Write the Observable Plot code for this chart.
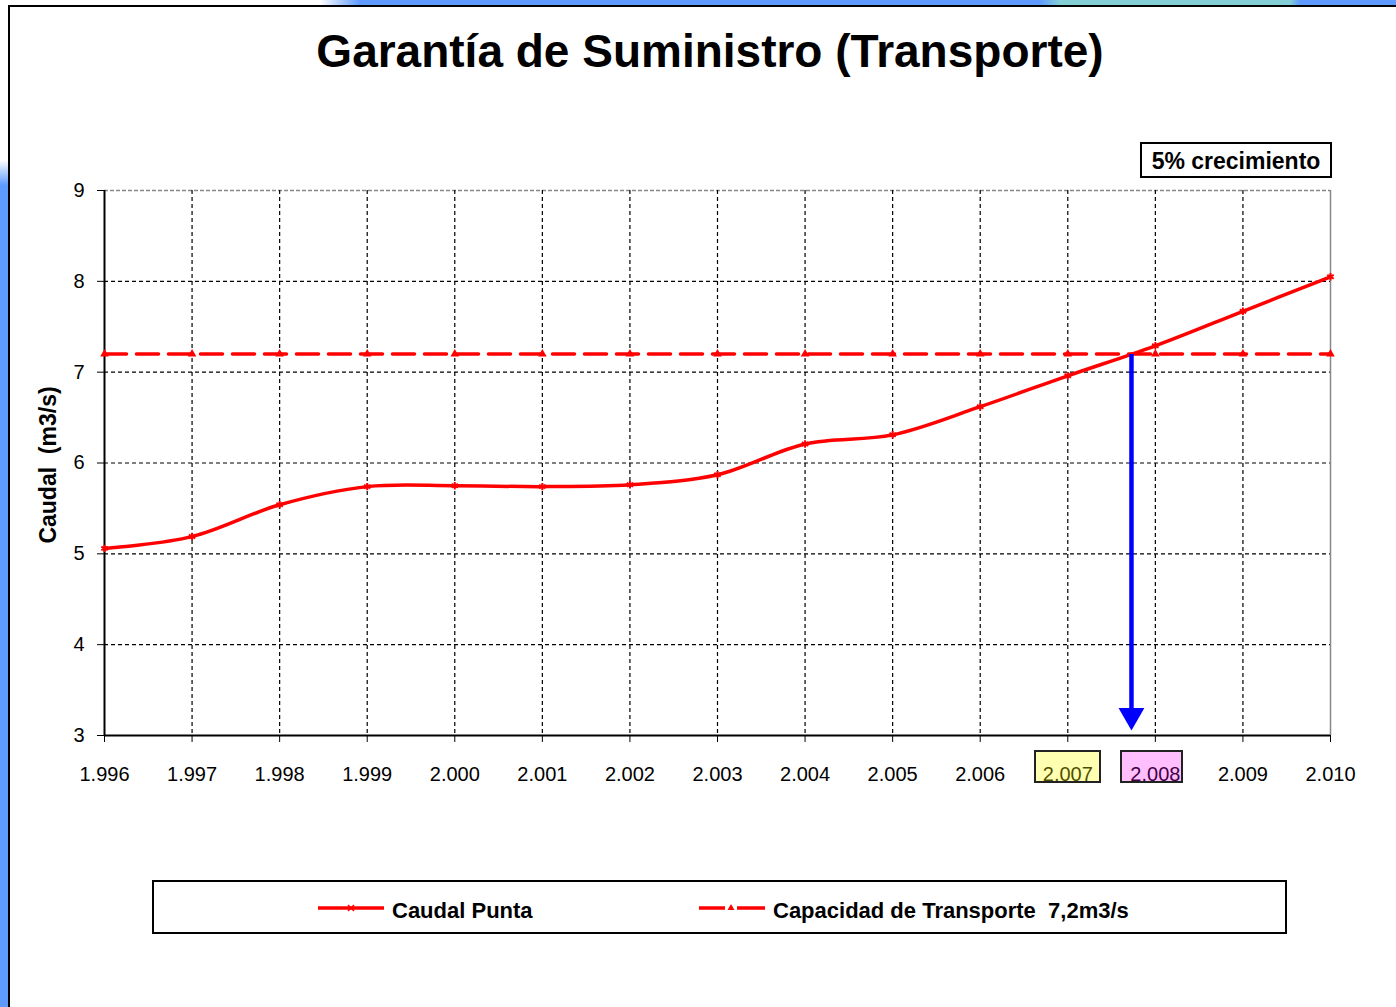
<!DOCTYPE html>
<html><head><meta charset="utf-8">
<script src="https://cdn.jsdelivr.net/npm/d3@7"></script>
<script src="https://cdn.jsdelivr.net/npm/@observablehq/plot@0.6"></script>
<style>
html,body{margin:0;padding:0;}
body{width:1396px;height:1007px;position:relative;overflow:hidden;background:#fff;font-family:"Liberation Sans",Arial,sans-serif;color:#000;}
#bgLeft{position:absolute;left:0;top:0;width:9px;height:1007px;background:linear-gradient(to bottom,#fff 0px,#fff 160px,#5f9bff 185px,#5f9bff 100%);}
#bgTop{position:absolute;left:300px;top:0;width:1096px;height:5px;background:linear-gradient(to right,#fff 0px,#fff 20px,#5f9bff 60px,#5f9bff 740px,#84cfd6 760px,#84cfd6 990px,#5f9bff 1000px);}
#frame{position:absolute;left:8px;top:5px;width:1500px;height:1100px;border-left:2px solid #000;border-top:2px solid #000;}
#title{position:absolute;left:0;width:1420px;top:25px;text-align:center;font-size:46px;font-weight:bold;line-height:52px;}
#note{position:absolute;left:1140px;top:142px;width:188px;height:32px;border:2px solid #000;font-size:23px;font-weight:bold;line-height:34px;text-align:center;background:#fff;white-space:nowrap;}
#chart{position:absolute;left:0;top:150px;}
#legend{position:absolute;left:152px;top:880px;width:1131px;height:50px;border:2px solid #000;background:#fff;}
.li{position:absolute;top:4px;height:50px;display:flex;align-items:center;font-size:22px;font-weight:bold;white-space:nowrap;}
.li svg{margin-right:6px;margin-top:-6px;}
.hl{position:absolute;border:2px solid #222;box-sizing:border-box;}
</style></head><body>
<div id="bgLeft"></div><div id="bgTop"></div><div id="frame"></div>
<div id="title">Garantía de Suministro (Transporte)</div>
<div id="note">5% crecimiento</div>
<div id="chart"></div>
<div id="legend"></div>
<script>
// ---- data ----
const years = [1996,1997,1998,1999,2000,2001,2002,2003,2004,2005,2006,2007,2008,2009,2010];
const caudalPunta = [5.06,5.19,5.54,5.74,5.75,5.74,5.76,5.87,6.21,6.31,6.62,6.96,7.29,7.67,8.05];
const capacidad = 7.2;
const yTicks = [3,4,5,6,7,8,9];
const highlightYears = [2007,2008];
const highlightColors = ["rgba(255,255,0,0.3)","rgba(255,0,255,0.25)"];
const seriesNames = ["Caudal Punta","Capacidad de Transporte\u00a0 7,2m3/s"];
const yLabel = "Caudal\u00a0 (m3/s)";

const data = years.map((y,i)=>({year:y, value:caudalPunta[i]}));
const capData = years.map(y=>({year:y, value:capacidad}));

// crossing year of the demand curve with the capacity (linear between points)
let crossYear = null;
for (let i=1;i<years.length;i++){
  if (caudalPunta[i-1] < capacidad && caudalPunta[i] >= capacidad){
    const f = (capacidad - caudalPunta[i-1])/(caudalPunta[i]-caudalPunta[i-1]);
    crossYear = years[i-1] + f*(years[i]-years[i-1]);
  }
}
const yearFmt = d => String(d)[0] + "." + String(d).slice(1);
const interior = years.slice(1,-1);
const innerY = yTicks.slice(1,-1);

const chart = Plot.plot({
  width:1396, height:660,
  marginLeft:104, marginRight:66, marginTop:40, marginBottom:75,
  style:{fontFamily:"'Liberation Sans', Arial, sans-serif", fontSize:"20px", color:"#000", background:"transparent", overflow:"visible"},
  x:{domain:[1996,2010], ticks:years, tickFormat:yearFmt, tickSize:7, tickPadding:24, label:null},
  y:{domain:[3,9], ticks:yTicks, tickFormat:d=>String(d), tickSize:7, tickPadding:13, label:null},
  marks:[
    Plot.ruleY(innerY, {stroke:"#000", strokeWidth:1.2, strokeDasharray:"4,3"}),
    Plot.ruleY([9], {stroke:"#888", strokeWidth:1.5, strokeDasharray:"4,2"}),
    Plot.ruleX(interior, {stroke:"#000", strokeWidth:1.2, strokeDasharray:"4,3"}),
    Plot.ruleX([2010], {stroke:"#888", strokeWidth:1.5}),
    Plot.ruleY([3], {stroke:"#000", strokeWidth:2}),
    Plot.ruleX([1996], {stroke:"#000", strokeWidth:2}),
    Plot.line(capData, {x:"year", y:"value", stroke:"#ff0000", strokeWidth:3.5, strokeDasharray:"22,10"}),
    Plot.dot(capData, {x:"year", y:"value", symbol:"triangle", fill:"#ff0000", r:3.2}),
    Plot.line(data, {x:"year", y:"value", stroke:"#ff0000", strokeWidth:3.5, curve:"catmull-rom"}),
    Plot.dot(data, {x:"year", y:"value", symbol:"asterisk", stroke:"#ff0000", strokeWidth:2, r:3.5}),
    Plot.link([{x:crossYear}], {x1:"x", x2:"x", y1:capacidad, y2:3.25, stroke:"#0000ff", strokeWidth:4.5}),
    Plot.dot([{x:crossYear}], {x:"x", y:3.22, symbol:"triangle", fill:"#0000ff", r:9.6, rotate:180}),
    Plot.text([yLabel], {frameAnchor:"left", dx:-56, dy:2, rotate:-90, textAnchor:"middle", fontWeight:"bold", fontSize:23, fill:"#000"})
  ]
});
document.getElementById("chart").appendChild(chart);

// highlighted tick labels
const xs = chart.scale("x");
highlightYears.forEach((yr,i)=>{
  const cx = xs.apply(yr);
  const d = document.createElement("div");
  d.className = "hl";
  const w = i===0 ? 67 : 63;
  d.style.left = (cx - w/2 + (i===0?0:-3)) + "px";
  d.style.top = "750px";
  d.style.width = w + "px";
  d.style.height = "33px";
  d.style.background = highlightColors[i];
  document.body.appendChild(d);
});

// legend
const lg = document.getElementById("legend");
const mk1 = `<svg width="70" height="14"><line x1="2" y1="7" x2="68" y2="7" stroke="#f00" stroke-width="3.5"/><path d="M32,4L38,10M38,4L32,10" stroke="#f00" stroke-width="1.5"/></svg>`;
const mk2 = `<svg width="70" height="14"><line x1="2" y1="7" x2="28" y2="7" stroke="#f00" stroke-width="3.5"/><line x1="40" y1="7" x2="68" y2="7" stroke="#f00" stroke-width="3.5"/><path d="M34,3L37.5,9L30.5,9Z" fill="#f00"/></svg>`;
const a = document.createElement("div"); a.className="li"; a.style.left="162px"; a.innerHTML = mk1 + `<span>${seriesNames[0]}</span>`;
const b = document.createElement("div"); b.className="li"; b.style.left="543px"; b.innerHTML = mk2 + `<span>${seriesNames[1]}</span>`;
lg.appendChild(a); lg.appendChild(b);
</script>
</body></html>
